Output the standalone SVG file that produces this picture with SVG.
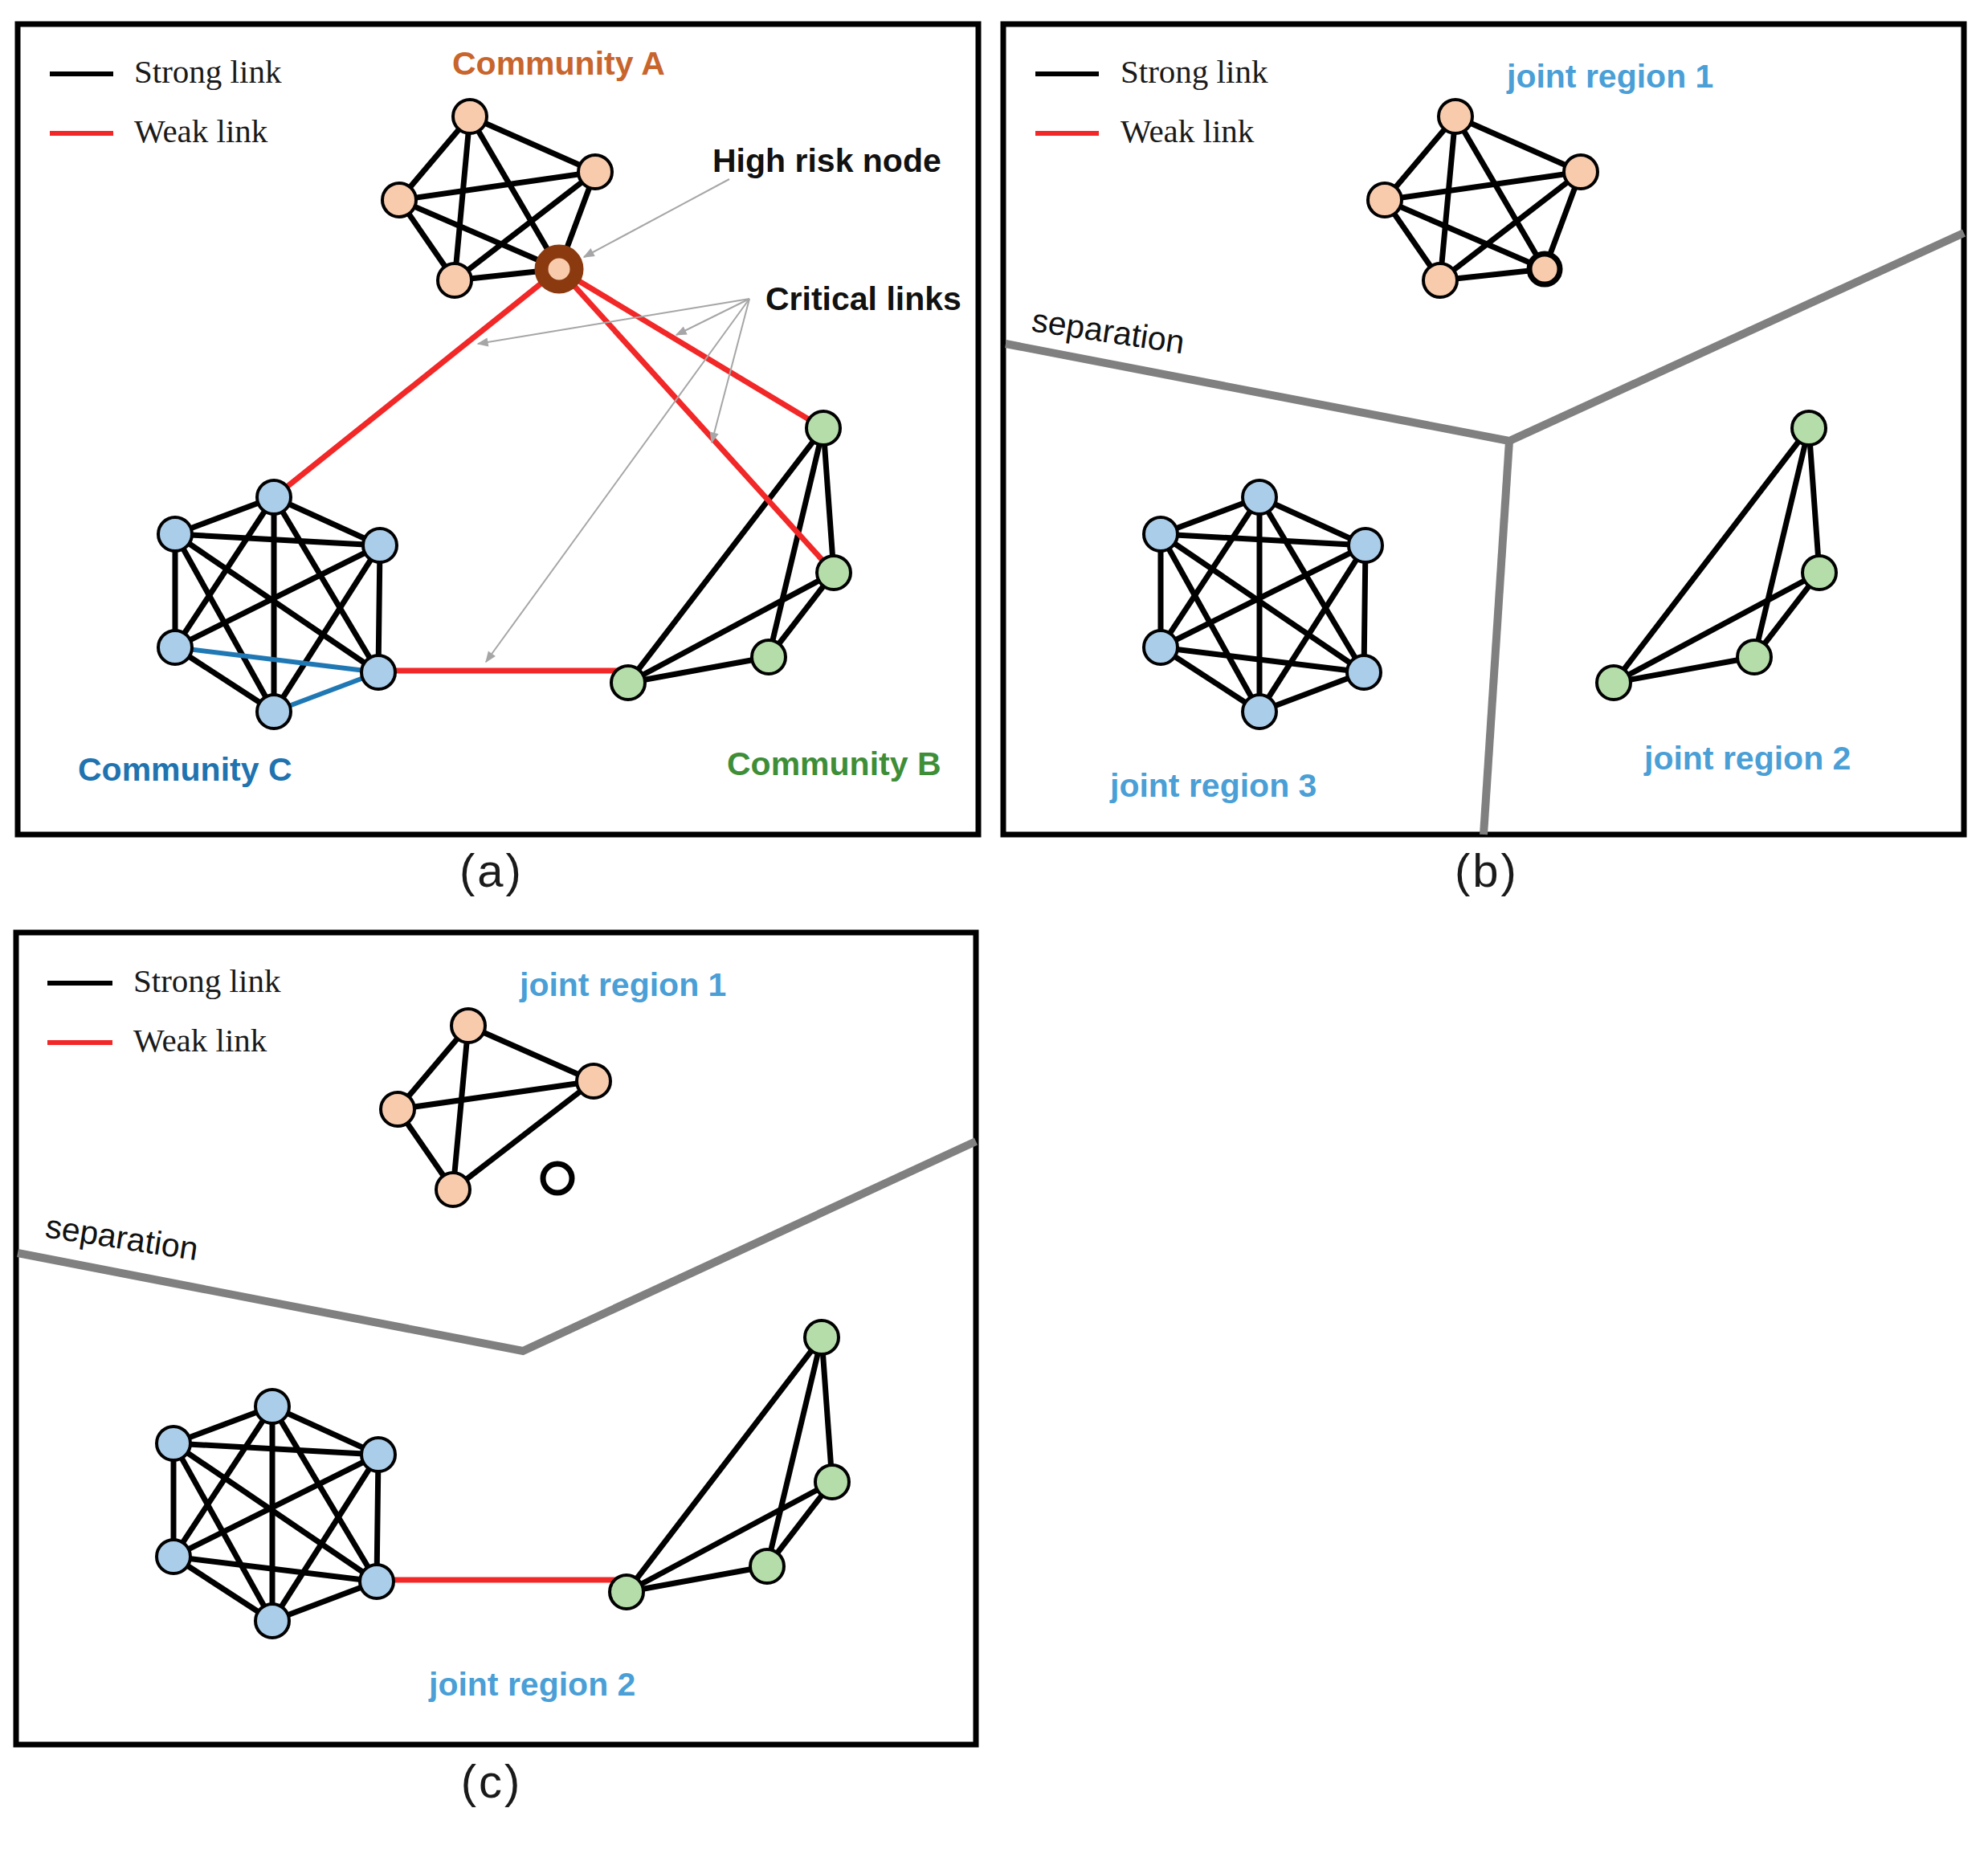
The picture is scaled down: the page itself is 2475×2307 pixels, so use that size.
<svg xmlns="http://www.w3.org/2000/svg" width="2475" height="2307" viewBox="0 0 2475 2307">
<defs>
<style>
.frame{fill:none;stroke:#000;stroke-width:7}
.e line{stroke:#000;stroke-width:7;stroke-linecap:round}
line.w{stroke:#F22727;stroke-width:7;stroke-linecap:butt}
line.bl{stroke:#1F78B4;stroke-width:6}
.n{stroke:#000;stroke-width:4}
.pe{fill:#F8CBAD}
.bu{fill:#AACDEA}
.gr{fill:#B5DDA9}
.sep{fill:none;stroke:#808080;stroke-width:10;stroke-linejoin:miter}
.leg{font-family:"Liberation Serif","Times New Roman",serif;font-size:41px;fill:#1a1a1a}
.lbl{font-family:"Liberation Sans",Arial,sans-serif;font-weight:bold;font-size:41px}
.sept{font-family:"Liberation Sans",Arial,sans-serif;font-size:41px;fill:#111}
.cap{font-family:"Liberation Sans",Arial,sans-serif;font-size:58px;fill:#1a1a1a;letter-spacing:3px}
.jr{fill:#4A9FD6}
.ann{stroke:#A6A6A6;stroke-width:2;fill:none;marker-end:url(#ah)}
.legk{stroke:#000;stroke-width:6}
.legr{stroke:#F22727;stroke-width:6}
</style>
<marker id="ah" viewBox="0 0 10 10" refX="9" refY="5" markerWidth="8" markerHeight="7" orient="auto" markerUnits="strokeWidth">
<path d="M0,1 L10,5 L0,9 z" fill="#A6A6A6"/>
</marker>
</defs>
<rect width="2475" height="2307" fill="#fff"/>

<!-- ================= Panel (a) ================= -->
<g id="panel-a">
<rect class="frame" x="22" y="30" width="1196" height="1009"/>
<g id="a-legend">
<line class="legk" x1="62" y1="92" x2="141" y2="92"/>
<line class="legr" x1="62" y1="166" x2="141" y2="166"/>
<text class="leg" x="167" y="103">Strong link</text>
<text class="leg" x="167" y="177">Weak link</text>
</g>
<g id="a-links" class="e">
<line x1="585" y1="145" x2="741" y2="214"/>
<line x1="585" y1="145" x2="497" y2="249"/>
<line x1="585" y1="145" x2="566" y2="349"/>
<line x1="585" y1="145" x2="696" y2="335"/>
<line x1="741" y1="214" x2="497" y2="249"/>
<line x1="741" y1="214" x2="566" y2="349"/>
<line x1="741" y1="214" x2="696" y2="335"/>
<line x1="497" y1="249" x2="566" y2="349"/>
<line x1="497" y1="249" x2="696" y2="335"/>
<line x1="566" y1="349" x2="696" y2="335"/>
<line x1="341" y1="619" x2="218" y2="665"/>
<line x1="341" y1="619" x2="473" y2="679"/>
<line x1="341" y1="619" x2="218" y2="806"/>
<line x1="341" y1="619" x2="471" y2="837"/>
<line x1="341" y1="619" x2="341" y2="886"/>
<line x1="218" y1="665" x2="473" y2="679"/>
<line x1="218" y1="665" x2="218" y2="806"/>
<line x1="218" y1="665" x2="471" y2="837"/>
<line x1="218" y1="665" x2="341" y2="886"/>
<line x1="473" y1="679" x2="218" y2="806"/>
<line x1="473" y1="679" x2="471" y2="837"/>
<line x1="473" y1="679" x2="341" y2="886"/>
<line x1="218" y1="806" x2="341" y2="886"/>
<line class="bl" x1="218" y1="806" x2="471" y2="837"/>
<line class="bl" x1="471" y1="837" x2="341" y2="886"/>
<line x1="1025" y1="533" x2="1038" y2="713"/>
<line x1="1025" y1="533" x2="957" y2="818"/>
<line x1="1025" y1="533" x2="782" y2="850"/>
<line x1="1038" y1="713" x2="957" y2="818"/>
<line x1="1038" y1="713" x2="782" y2="850"/>
<line x1="957" y1="818" x2="782" y2="850"/>
<line class="w" x1="696" y1="335" x2="341" y2="619"/>
<line class="w" x1="696" y1="335" x2="1025" y2="533"/>
<line class="w" x1="696" y1="335" x2="1038" y2="713"/>
<line class="w" x1="471" y1="835" x2="775" y2="835"/>
</g>
<g id="a-A1"><circle class="n pe" cx="585" cy="145" r="21"/></g>
<g id="a-A2"><circle class="n pe" cx="741" cy="214" r="21"/></g>
<g id="a-A3"><circle class="n pe" cx="497" cy="249" r="21"/></g>
<g id="a-A4"><circle class="n pe" cx="566" cy="349" r="21"/></g>
<g id="a-H"><circle cx="696" cy="335" r="22" fill="#F8CBAD" stroke="#8B3A0F" stroke-width="17"/></g>
<g id="a-C1"><circle class="n bu" cx="341" cy="619" r="21"/></g>
<g id="a-C2"><circle class="n bu" cx="218" cy="665" r="21"/></g>
<g id="a-C3"><circle class="n bu" cx="473" cy="679" r="21"/></g>
<g id="a-C4"><circle class="n bu" cx="218" cy="806" r="21"/></g>
<g id="a-C5"><circle class="n bu" cx="471" cy="837" r="21"/></g>
<g id="a-C6"><circle class="n bu" cx="341" cy="886" r="21"/></g>
<g id="a-B1"><circle class="n gr" cx="1025" cy="533" r="21"/></g>
<g id="a-B2"><circle class="n gr" cx="1038" cy="713" r="21"/></g>
<g id="a-B3"><circle class="n gr" cx="957" cy="818" r="21"/></g>
<g id="a-B4"><circle class="n gr" cx="782" cy="850" r="21"/></g>
<g id="a-annotations">
<line class="ann" x1="908" y1="223" x2="727" y2="320"/>
<line class="ann" x1="933" y1="372" x2="595" y2="428"/>
<line class="ann" x1="933" y1="372" x2="842" y2="417"/>
<line class="ann" x1="933" y1="372" x2="886" y2="551"/>
<line class="ann" x1="933" y1="372" x2="605" y2="824"/>
</g>
<text class="lbl" x="563" y="93" fill="#C8652C">Community A</text>
<text class="lbl" x="887" y="214" fill="#111">High risk node</text>
<text class="lbl" x="953" y="386" fill="#111">Critical links</text>
<text class="lbl" x="97" y="972" fill="#1F74B0">Community C</text>
<text class="lbl" x="905" y="965" fill="#3E8E37">Community B</text>
<text class="cap" x="612" y="1104" text-anchor="middle">(a)</text>
</g>

<!-- ================= Panel (b) ================= -->
<g id="panel-b">
<rect class="frame" x="1249" y="30" width="1196" height="1009"/>
<polyline class="sep" points="1252,428 1879,549 2445,290"/>
<line class="sep" x1="1879" y1="549" x2="1847" y2="1039"/>
<text class="sept" transform="translate(1283,412) rotate(8.5)">separation</text>
<g id="b-legend">
<line class="legk" x1="1289" y1="92" x2="1368" y2="92"/>
<line class="legr" x1="1289" y1="166" x2="1368" y2="166"/>
<text class="leg" x="1395" y="103">Strong link</text>
<text class="leg" x="1395" y="177">Weak link</text>
</g>
<g transform="translate(1227,0)">
<g id="b-links" class="e">
<line x1="585" y1="145" x2="741" y2="214"/>
<line x1="585" y1="145" x2="497" y2="249"/>
<line x1="585" y1="145" x2="566" y2="349"/>
<line x1="585" y1="145" x2="696" y2="335"/>
<line x1="741" y1="214" x2="497" y2="249"/>
<line x1="741" y1="214" x2="566" y2="349"/>
<line x1="741" y1="214" x2="696" y2="335"/>
<line x1="497" y1="249" x2="566" y2="349"/>
<line x1="497" y1="249" x2="696" y2="335"/>
<line x1="566" y1="349" x2="696" y2="335"/>
<line x1="341" y1="619" x2="218" y2="665"/>
<line x1="341" y1="619" x2="473" y2="679"/>
<line x1="341" y1="619" x2="218" y2="806"/>
<line x1="341" y1="619" x2="471" y2="837"/>
<line x1="341" y1="619" x2="341" y2="886"/>
<line x1="218" y1="665" x2="473" y2="679"/>
<line x1="218" y1="665" x2="218" y2="806"/>
<line x1="218" y1="665" x2="471" y2="837"/>
<line x1="218" y1="665" x2="341" y2="886"/>
<line x1="473" y1="679" x2="218" y2="806"/>
<line x1="473" y1="679" x2="471" y2="837"/>
<line x1="473" y1="679" x2="341" y2="886"/>
<line x1="218" y1="806" x2="341" y2="886"/>
<line x1="218" y1="806" x2="471" y2="837"/>
<line x1="471" y1="837" x2="341" y2="886"/>
<line x1="1025" y1="533" x2="1038" y2="713"/>
<line x1="1025" y1="533" x2="957" y2="818"/>
<line x1="1025" y1="533" x2="782" y2="850"/>
<line x1="1038" y1="713" x2="957" y2="818"/>
<line x1="1038" y1="713" x2="782" y2="850"/>
<line x1="957" y1="818" x2="782" y2="850"/>
</g>
<g id="b-A1"><circle class="n pe" cx="585" cy="145" r="21"/></g>
<g id="b-A2"><circle class="n pe" cx="741" cy="214" r="21"/></g>
<g id="b-A3"><circle class="n pe" cx="497" cy="249" r="21"/></g>
<g id="b-A4"><circle class="n pe" cx="566" cy="349" r="21"/></g>
<g id="b-H"><circle class="pe" cx="696" cy="335" r="19" stroke="#000" stroke-width="7"/></g>
<g id="b-C1"><circle class="n bu" cx="341" cy="619" r="21"/></g>
<g id="b-C2"><circle class="n bu" cx="218" cy="665" r="21"/></g>
<g id="b-C3"><circle class="n bu" cx="473" cy="679" r="21"/></g>
<g id="b-C4"><circle class="n bu" cx="218" cy="806" r="21"/></g>
<g id="b-C5"><circle class="n bu" cx="471" cy="837" r="21"/></g>
<g id="b-C6"><circle class="n bu" cx="341" cy="886" r="21"/></g>
<g id="b-B1"><circle class="n gr" cx="1025" cy="533" r="21"/></g>
<g id="b-B2"><circle class="n gr" cx="1038" cy="713" r="21"/></g>
<g id="b-B3"><circle class="n gr" cx="957" cy="818" r="21"/></g>
<g id="b-B4"><circle class="n gr" cx="782" cy="850" r="21"/></g>
</g>
<text class="lbl jr" x="1876" y="109">joint region 1</text>
<text class="lbl jr" x="1382" y="992">joint region 3</text>
<text class="lbl jr" x="2047" y="958">joint region 2</text>
<text class="cap" x="1851" y="1104" text-anchor="middle">(b)</text>
</g>

<!-- ================= Panel (c) ================= -->
<g id="panel-c">
<rect class="frame" x="20" y="1161" width="1195" height="1011"/>
<polyline class="sep" points="22,1560 651,1682 1215,1421"/>
<text class="sept" transform="translate(55,1540) rotate(8.8)">separation</text>
<g id="c-legend">
<line class="legk" x1="59" y1="1224" x2="140" y2="1224"/>
<line class="legr" x1="59" y1="1298" x2="140" y2="1298"/>
<text class="leg" x="166" y="1235">Strong link</text>
<text class="leg" x="166" y="1309">Weak link</text>
</g>
<g transform="translate(-2,1132)">
<g id="c-links" class="e">
<line x1="585" y1="145" x2="741" y2="214"/>
<line x1="585" y1="145" x2="497" y2="249"/>
<line x1="585" y1="145" x2="566" y2="349"/>
<line x1="741" y1="214" x2="497" y2="249"/>
<line x1="741" y1="214" x2="566" y2="349"/>
<line x1="497" y1="249" x2="566" y2="349"/>
<line x1="341" y1="619" x2="218" y2="665"/>
<line x1="341" y1="619" x2="473" y2="679"/>
<line x1="341" y1="619" x2="218" y2="806"/>
<line x1="341" y1="619" x2="471" y2="837"/>
<line x1="341" y1="619" x2="341" y2="886"/>
<line x1="218" y1="665" x2="473" y2="679"/>
<line x1="218" y1="665" x2="218" y2="806"/>
<line x1="218" y1="665" x2="471" y2="837"/>
<line x1="218" y1="665" x2="341" y2="886"/>
<line x1="473" y1="679" x2="218" y2="806"/>
<line x1="473" y1="679" x2="471" y2="837"/>
<line x1="473" y1="679" x2="341" y2="886"/>
<line x1="218" y1="806" x2="341" y2="886"/>
<line x1="218" y1="806" x2="471" y2="837"/>
<line x1="471" y1="837" x2="341" y2="886"/>
<line x1="1025" y1="533" x2="1038" y2="713"/>
<line x1="1025" y1="533" x2="957" y2="818"/>
<line x1="1025" y1="533" x2="782" y2="850"/>
<line x1="1038" y1="713" x2="957" y2="818"/>
<line x1="1038" y1="713" x2="782" y2="850"/>
<line x1="957" y1="818" x2="782" y2="850"/>
<line class="w" x1="471" y1="835" x2="775" y2="835"/>
</g>
<g id="c-A1"><circle class="n pe" cx="585" cy="145" r="21"/></g>
<g id="c-A2"><circle class="n pe" cx="741" cy="214" r="21"/></g>
<g id="c-A3"><circle class="n pe" cx="497" cy="249" r="21"/></g>
<g id="c-A4"><circle class="n pe" cx="566" cy="349" r="21"/></g>
<g id="c-H"><circle cx="696" cy="335" r="18" fill="#fff" stroke="#000" stroke-width="7"/></g>
<g id="c-C1"><circle class="n bu" cx="341" cy="619" r="21"/></g>
<g id="c-C2"><circle class="n bu" cx="218" cy="665" r="21"/></g>
<g id="c-C3"><circle class="n bu" cx="473" cy="679" r="21"/></g>
<g id="c-C4"><circle class="n bu" cx="218" cy="806" r="21"/></g>
<g id="c-C5"><circle class="n bu" cx="471" cy="837" r="21"/></g>
<g id="c-C6"><circle class="n bu" cx="341" cy="886" r="21"/></g>
<g id="c-B1"><circle class="n gr" cx="1025" cy="533" r="21"/></g>
<g id="c-B2"><circle class="n gr" cx="1038" cy="713" r="21"/></g>
<g id="c-B3"><circle class="n gr" cx="957" cy="818" r="21"/></g>
<g id="c-B4"><circle class="n gr" cx="782" cy="850" r="21"/></g>
</g>
<text class="lbl jr" x="647" y="1240">joint region 1</text>
<text class="lbl jr" x="534" y="2111">joint region 2</text>
<text class="cap" x="612" y="2238" text-anchor="middle">(c)</text>
</g>
</svg>
